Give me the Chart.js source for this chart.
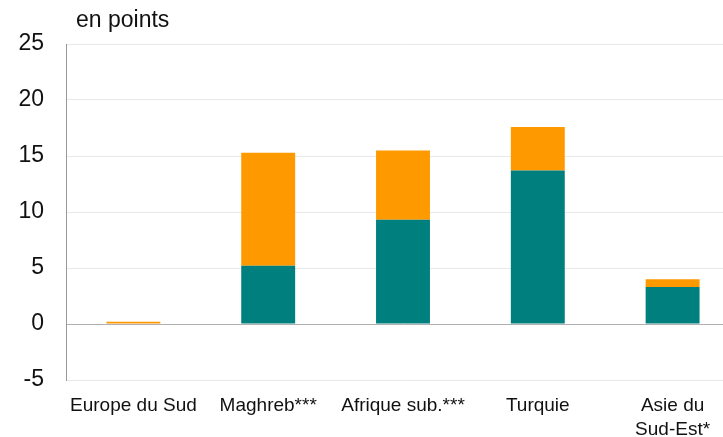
<!DOCTYPE html>
<html>
<head>
<meta charset="utf-8">
<script src="https://cdn.jsdelivr.net/npm/chart.js@4"></script>
<style>
  body { margin: 0; overflow: hidden; background: #fff; }
  #wrap { position: relative; width: 723px; height: 437px; overflow: hidden; }
  #unit { position: absolute; left: 76px; top: 6px; font: 23px "Liberation Sans", Arial, sans-serif; color: #111; }
</style>
</head>
<body>
<div id="wrap">
  <div id="unit">en points</div>
  <canvas id="c" width="740" height="437"></canvas>
</div>
<script>
  const categories = ["Europe du Sud", "Maghreb***", "Afrique sub.***", "Turquie", ["Asie du", "Sud-Est*"]];
  const baseValues = [0, 5.2, 9.3, 13.7, 3.3];
  const addedValues = [0.2, 10.1, 6.2, 3.9, 0.7];
  const yTicks = [-5, 0, 5, 10, 15, 20, 25];

  const ctx = document.getElementById("c").getContext("2d");
  new Chart(ctx, {
    type: "bar",
    data: {
      labels: categories,
      datasets: [
        { data: baseValues, backgroundColor: "#007f7f", barPercentage: 0.4, categoryPercentage: 1 },
        { data: addedValues, backgroundColor: "#ff9900", barPercentage: 0.4, categoryPercentage: 1 }
      ]
    },
    options: {
      responsive: false,
      animation: false,
      layout: { padding: { top: 44, left: 0, right: 0, bottom: 0 } },
      plugins: { legend: { display: false }, tooltip: { enabled: false } },
      scales: {
        x: {
          stacked: true,
          grid: { display: false, drawTicks: false },
          border: { display: false },
          ticks: { color: "#111", padding: 13, font: { family: "Liberation Sans", size: 19, lineHeight: 1.3 }, maxRotation: 0, autoSkip: false },
          afterFit: (s) => { s.height = 57; }
        },
        y: {
          stacked: true,
          min: yTicks[0],
          max: yTicks[yTicks.length - 1],
          afterBuildTicks: (s) => { s.ticks = yTicks.map(v => ({ value: v })); },
          grid: {
            drawTicks: false,
            color: (c) => c.tick && c.tick.value === 0 ? "#b0b0b0" : "#e8e8e8",
            lineWidth: 1
          },
          border: { display: true, color: "#999" },
          ticks: { color: "#111", padding: 22, font: { family: "Liberation Sans", size: 23 } },
          afterFit: (s) => { s.width = 66; }
        }
      }
    }
  });
</script>
</body>
</html>
